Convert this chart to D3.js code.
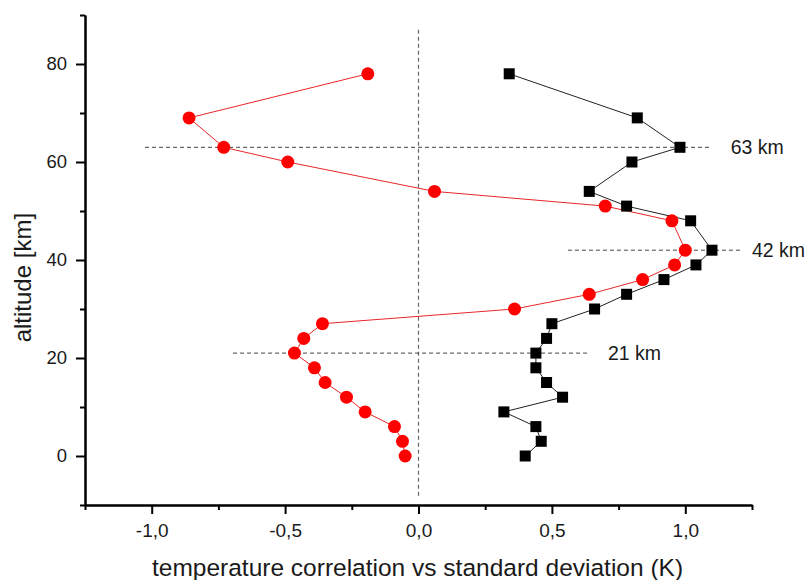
<!DOCTYPE html>
<html>
<head>
<meta charset="utf-8">
<script src="https://cdn.jsdelivr.net/npm/d3@7"></script>
<style>
  html, body { margin: 0; padding: 0; background: #fff; }
  svg { display: block; font-family: "Liberation Sans", Arial, sans-serif; }
</style>
</head>
<body>
<svg id="chart" width="807" height="580"></svg>
<script>
// Altitude levels (km) shared by both profiles
const altitudes = [78, 69, 63, 60, 54, 51, 48, 42, 39, 36, 33, 30, 27, 24, 21, 18, 15, 12, 9, 6, 3, 0];
// Temperature correlation (red circles)
const correlation = [-0.19, -0.86, -0.73, -0.49, 0.06, 0.70, 0.95, 1.00, 0.96, 0.84, 0.64, 0.36,
                     -0.36, -0.43, -0.465, -0.39, -0.35, -0.27, -0.20, -0.09, -0.06, -0.05];
// Standard deviation in K (black squares)
const stdDev = [0.34, 0.82, 0.98, 0.80, 0.64, 0.78, 1.02, 1.10, 1.04, 0.92, 0.78, 0.66,
                0.50, 0.48, 0.44, 0.44, 0.48, 0.54, 0.32, 0.44, 0.46, 0.40];
// Reference altitude markers: level, horizontal extent, label
const markerLevels = [63, 42, 21];
const markerFrom = [-1.025, 0.56, -0.695];
const markerTo = [1.095, 1.21, 0.635];
const markerLabels = ["63 km", "42 km", "21 km"];
const markerLabelX = [1.17, 1.25, 0.71];
// Axis ticks
const xMajorTicks = [-1.0, -0.5, 0.0, 0.5, 1.0];
const xMinorTicks = [-1.25, -0.75, -0.25, 0.25, 0.75, 1.25];
const yMajorTicks = [0, 20, 40, 60, 80];
const yMinorTicks = [-10, 10, 30, 50, 70, 90];

const svg = d3.select("#chart");
const margin = { left: 85, right: 55, top: 15, bottom: 75 };
const W = 807, H = 580;

const x = d3.scaleLinear().domain([-1.25, 1.25]).range([margin.left, W - margin.right]);
const y = d3.scaleLinear().domain([-10, 90]).range([H - margin.bottom, margin.top]);

const fmt = d => d3.format(".1f")(d).replace(".", ",").replace("−", "-");
const textColor = "#1a1a1a";

// Dashed zero line
svg.append("line")
  .attr("x1", x(0)).attr("x2", x(0))
  .attr("y1", y(87)).attr("y2", y(-8.5))
  .attr("stroke", "#666").attr("stroke-width", 1.2)
  .attr("stroke-dasharray", "4,3");

// Dashed altitude markers and their labels
markerLevels.forEach((lv, i) => {
  svg.append("line")
    .attr("x1", x(markerFrom[i])).attr("x2", x(markerTo[i]))
    .attr("y1", y(lv)).attr("y2", y(lv))
    .attr("stroke", "#444").attr("stroke-width", 1)
    .attr("stroke-dasharray", "4,3");
  svg.append("text")
    .attr("x", x(markerLabelX[i])).attr("y", y(lv))
    .attr("dy", "0.35em")
    .attr("font-size", 19.5).attr("fill", textColor)
    .text(markerLabels[i]);
});

// Axes
const xAxis = svg.append("g").attr("transform", `translate(0,${H - margin.bottom})`);
xAxis.call(d3.axisBottom(x).tickValues(xMajorTicks).tickFormat(fmt).tickSize(9).tickSizeOuter(0));
const xMinor = svg.append("g").attr("transform", `translate(0,${H - margin.bottom})`);
xMinor.call(d3.axisBottom(x).tickValues(xMinorTicks).tickFormat("").tickSize(5).tickSizeOuter(0));

const yAxis = svg.append("g").attr("transform", `translate(${margin.left},0)`);
yAxis.call(d3.axisLeft(y).tickValues(yMajorTicks).tickFormat(d3.format("d")).tickSize(9).tickSizeOuter(0));
const yMinor = svg.append("g").attr("transform", `translate(${margin.left},0)`);
yMinor.call(d3.axisLeft(y).tickValues(yMinorTicks).tickFormat("").tickSize(5).tickSizeOuter(0));

svg.selectAll(".domain").attr("stroke", "#000").attr("stroke-width", 2);
svg.selectAll(".tick line").attr("stroke", "#000").attr("stroke-width", 2);
xAxis.selectAll(".tick text")
  .attr("font-size", 19).attr("fill", textColor)
  .attr("y", 32).attr("dy", 0)
  .attr("font-family", "Liberation Sans, Arial, sans-serif");
yAxis.selectAll(".tick text")
  .attr("font-size", 18.5).attr("fill", textColor)
  .attr("x", -18)
  .attr("font-family", "Liberation Sans, Arial, sans-serif");

// Axis titles
svg.append("text")
  .attr("x", 417.5).attr("y", 576)
  .attr("text-anchor", "middle")
  .attr("font-size", 24.5).attr("fill", textColor)
  .text("temperature correlation vs standard deviation (K)");
svg.append("text")
  .attr("transform", `translate(31,${y(36.4)}) rotate(-90)`)
  .attr("text-anchor", "middle")
  .attr("font-size", 24).attr("fill", textColor)
  .text("altitude [km]");

// Profiles
const corrData = altitudes.map((a, i) => ({ a, v: correlation[i] }));
const stdData = altitudes.map((a, i) => ({ a, v: stdDev[i] }));
const line = d3.line().x(d => x(d.v)).y(d => y(d.a));

svg.append("path").datum(stdData)
  .attr("d", line).attr("fill", "none")
  .attr("stroke", "#222").attr("stroke-width", 1);
svg.append("path").datum(corrData)
  .attr("d", line).attr("fill", "none")
  .attr("stroke", "#e8262a").attr("stroke-width", 1);

const sq = 11;
svg.append("g").selectAll("rect").data(stdData).join("rect")
  .attr("x", d => x(d.v) - sq / 2).attr("y", d => y(d.a) - sq / 2)
  .attr("width", sq).attr("height", sq)
  .attr("fill", "#000");

svg.append("g").selectAll("circle").data(corrData).join("circle")
  .attr("cx", d => x(d.v)).attr("cy", d => y(d.a))
  .attr("r", 6.5)
  .attr("fill", "#f00");
</script>
</body>
</html>
